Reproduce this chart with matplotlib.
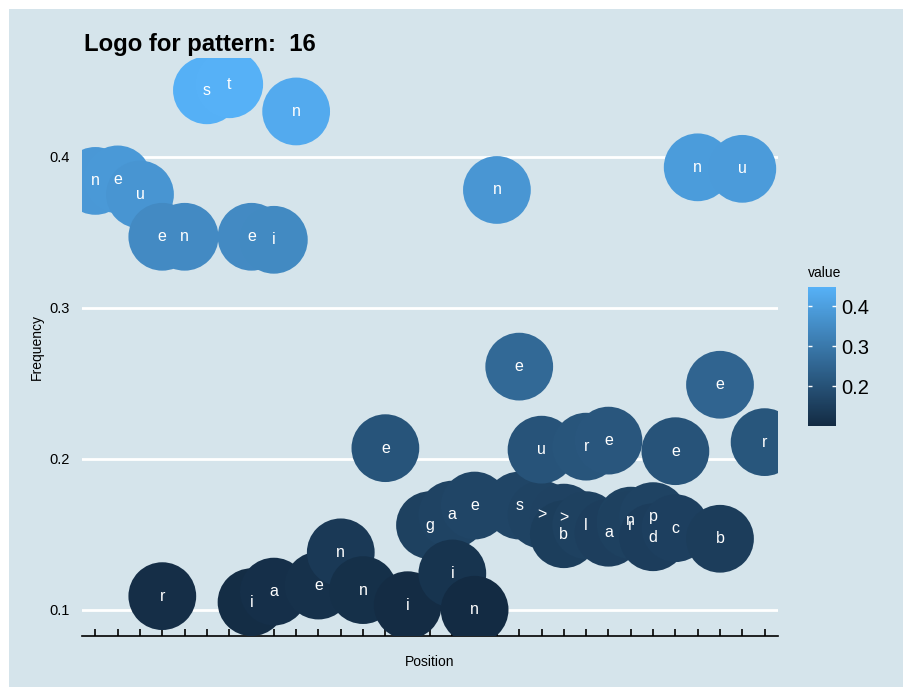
import matplotlib.pyplot as plt
import numpy as np
from matplotlib.colors import LinearSegmentedColormap, Normalize
from matplotlib.patches import Rectangle

plt.rcParams['font.family'] = ['Liberation Sans', 'DejaVu Sans']

# (position, letter, frequency)
positions = [1, 2, 3, 4, 4, 5, 6, 7, 8, 8, 9, 9, 10, 11, 12, 13, 14, 15, 16,
             17, 17, 18, 18, 19, 20, 20, 21, 21, 22, 22, 23, 23, 24, 24, 25,
             25, 26, 26, 27, 27, 28, 29, 29, 30, 31]
letters = ["n", "e", "u", "e", "r", "n", "s", "t", "e", "i", "i", "a", "n",
           "e", "n", "n", "e", "i", "g", "a", "i", "e", "n", "n", "s", "e",
           ">", "u", ">", "b", "l", "r", "e", "a", "n", "r", "p", "d", "c",
           "e", "n", "b", "e", "u", "r"]
freqs = [0.384, 0.385, 0.375, 0.347, 0.109, 0.347, 0.444, 0.448, 0.347,
         0.105, 0.345, 0.112, 0.430, 0.116, 0.138, 0.113, 0.207, 0.103,
         0.156, 0.163, 0.124, 0.169, 0.100, 0.378, 0.169, 0.261, 0.163,
         0.206, 0.161, 0.150, 0.156, 0.208, 0.212, 0.151, 0.159, 0.156,
         0.162, 0.148, 0.154, 0.205, 0.393, 0.147, 0.249, 0.392, 0.211]
n_positions = 31
title = "Logo for pattern:  16"

bg = "#D5E4EB"
cmap = LinearSegmentedColormap.from_list("gg", ["#132B43", "#56B1F7"])
norm = Normalize(min(freqs), max(freqs))

fig = plt.figure(figsize=(9.04, 6.87), dpi=100, facecolor="white")
fig.patches.append(Rectangle((9 / 904, 0), 1, 1 - 9 / 687, transform=fig.transFigure,
                             facecolor=bg, edgecolor="none", zorder=-10))

ax = fig.add_axes([82 / 904, 1 - 636 / 687, 696 / 904, 578 / 687])
ax.set_facecolor(bg)
sc = ax.scatter(positions, freqs, c=freqs, cmap=cmap, norm=norm, s=2380,
                edgecolors="none", zorder=3)
for x, y, t in zip(positions, freqs, letters):
    ax.text(x, y, t, color="white", fontsize=11.5, ha="center", va="center", zorder=4)

lo, hi = min(freqs), max(freqs)
pad = (hi - lo) * 0.05
ax.set_ylim(lo - pad, hi + pad)
ax.set_xlim(0.4, n_positions + 0.6)
ax.set_xticks(range(1, n_positions + 1))
ax.set_xticklabels([])
ax.set_yticks([0.1, 0.2, 0.3, 0.4])
ax.set_yticklabels(["0.1", "0.2", "0.3", "0.4"])
ax.tick_params(axis="y", length=0, pad=9, labelsize=10.5)
ax.tick_params(axis="x", direction="in", length=5, width=1.2, color="black")
ax.yaxis.grid(True, color="white", linewidth=2)
ax.set_axisbelow(True)
for s in ["top", "right", "left"]:
    ax.spines[s].set_visible(False)
ax.spines["bottom"].set_linewidth(1.2)
ax.set_xlabel("Position", fontsize=10, labelpad=10)
ax.set_ylabel("Frequency", fontsize=10, labelpad=4)
fig.text(84 / 904, 1 - 45 / 687, title, fontsize=17.2, fontweight="bold", va="center", ha="left")

cax = fig.add_axes([808 / 904, 1 - 426 / 687, 28 / 904, 139 / 687])
cb = fig.colorbar(sc, cax=cax, ticks=[0.2, 0.3, 0.4])
cb.outline.set_visible(False)
cax.yaxis.set_ticks_position("both")
cax.yaxis.set_label_position("right")
cax.tick_params(direction="in", length=3, color="white", width=1, labelsize=14.5,
                labelleft=False, labelright=True, pad=4)
fig.text(808 / 904, 1 - 273 / 687, "value", fontsize=10, va="center", ha="left")

fig.savefig("out.png", dpi=100, facecolor="white")
